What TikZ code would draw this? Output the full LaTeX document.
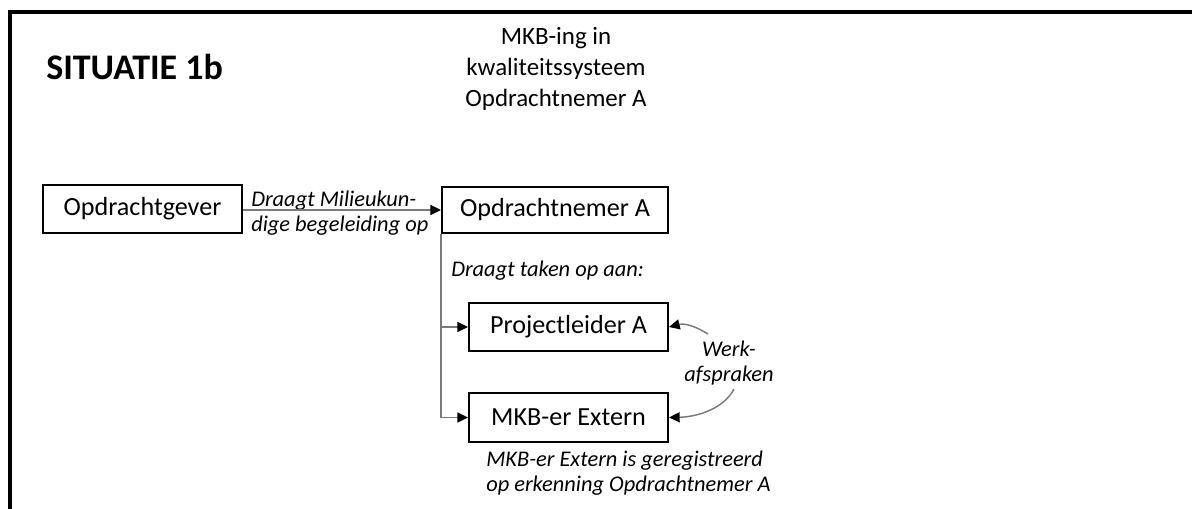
\documentclass[tikz,border=0pt]{standalone}
\usepackage{fontspec}
\setmainfont{Carlito}
\usetikzlibrary{arrows.meta}
\definecolor{conngray}{HTML}{7A7A7A}
\tikzset{
  box/.style={draw=black, line width=1.5pt, inner sep=0pt, font={\fontsize{19.6}{23}\selectfont}},
  conn/.style={draw=conngray, line width=1.1pt, -{Triangle[length=8pt,width=7.5pt,color=black]}},
  lbl/.style={inner sep=0pt, font={\fontsize{16.8}{18.8}\selectfont\itshape}, align=left},
  frameline/.style={line width=2.3pt, black}
}
\begin{document}
\begin{tikzpicture}[x=0.75pt,y=-0.75pt]
\useasboundingbox (0,0) rectangle (1192,509);
% frame
\draw[frameline] (10,509) -- (10,12) -- (1192,12);
% title texts
\node[inner sep=0pt, anchor=west, font={\fontsize{27}{31}\selectfont\bfseries}] (sit) at (46,67) {SITUATIE 1b};
\node[inner sep=0pt, align=center, font={\fontsize{18.7}{23}\selectfont}] (title) at (556,69) {MKB-ing in\\kwaliteitssysteem\\Opdrachtnemer A};
% boxes
\node[box, minimum width=149.25pt, minimum height=36pt] (og) at (142.5,209) {Opdrachtgever};
\node[box, minimum width=169.5pt, minimum height=34.5pt] (on) at (555,210) {Opdrachtnemer A};
\node[box, minimum width=149.25pt, minimum height=36pt] (pl) at (568.5,327) {Projectleider A};
\node[box, minimum width=149.25pt, minimum height=36.75pt] (mkb) at (568.5,417.5) {MKB-er Extern};
% labels
\node[lbl, anchor=west] (l1) at (251,213) {Draagt Milieukun-\\dige begeleiding op};
\node[lbl, anchor=west] (l2) at (451,271) {Draagt taken op aan:};
\node[lbl, anchor=west] (l3) at (486,473) {MKB-er Extern is geregistreerd\\op erkenning Opdrachtnemer A};
\node[lbl, align=center] (wa) at (729,363) {Werk-\\afspraken};
% connectors
\draw[conn] (og.east |- on.west) -- (on.west);
\draw[conn] (on.south west) |- (mkb.west);
\draw[conn] (on.south west |- pl.west) -- (pl.west);
\coordinate (c1) at (708,334);
\coordinate (c2) at (734,389);
\draw[conn] (c1) .. controls (695,326) and (685,323) .. (pl.east);
\draw[conn] (c2) .. controls (723,410) and (695,417) .. (mkb.east);
\end{tikzpicture}
\end{document}
